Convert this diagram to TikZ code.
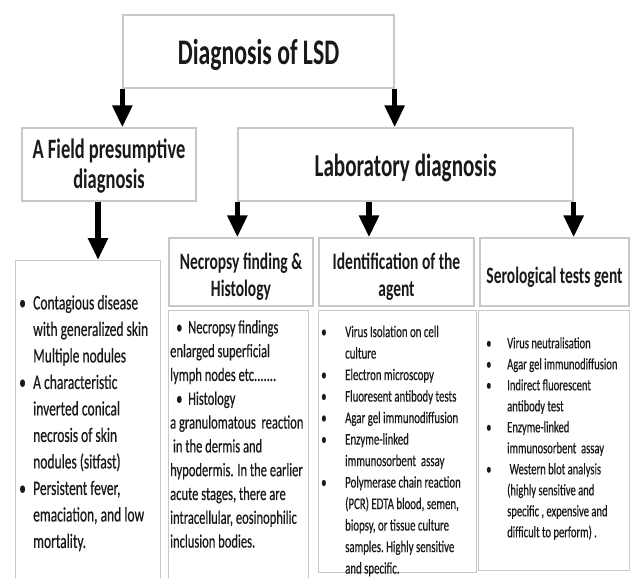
\documentclass[tikz,border=0pt]{standalone}
\usepackage{fontspec}
\setmainfont{Carlito}[FakeStretch=0.66]
\newfontfamily\bodyfont{Carlito}[FakeStretch=0.66,FakeBold=0.4]
\usetikzlibrary{arrows.meta,positioning}
\definecolor{frame}{RGB}{200,200,200}
\definecolor{ink}{RGB}{25,25,25}
\newcommand\fsz[2]{\fontsize{#1}{#2}\selectfont}
\newcommand\bul[1]{\makebox[#1][l]{\textbullet}}
\newcommand\lift[1]{\rule{0pt}{#1}}
\tikzset{
  panel/.style={draw=frame,line width=1.3pt,fill=white,inner sep=0pt,align=center,text=ink},
  head/.style={panel,font=\bfseries\fsz{#1}{27}},
  fat/.style={-{Triangle[width=19pt,length=22pt]},line width=5.5pt,draw=black},
  listtext/.style={inner sep=0pt,anchor=north west,align=left,text=ink},
}
\begin{document}
\begin{tikzpicture}[x=1pt,y=-1pt]
  \fill[white] (0,0) rectangle (632,578);
  \useasboundingbox (0,0) rectangle (632,578);
  % top levels
  \node[panel,minimum width=271pt,minimum height=73pt,font=\bfseries\fsz{36}{40}] (diag) at (258.5,51.5) {\lift{33pt}Diagnosis of LSD};
  \node[panel,minimum width=174pt,minimum height=73pt,font=\bfseries\fsz{28}{30}] (field) at (109,164.5) {\lift{23pt}A Field presumptive\\diagnosis};
  \node[panel,minimum width=335pt,minimum height=73pt,font=\bfseries\fsz{32}{36}] (lab) at (405.5,164.5) {\lift{29pt}Laboratory diagnosis};
  % column heads
  \node[head=23.5,minimum width=144pt,minimum height=68pt] (necro) at (241,272) {\lift{26pt}Necropsy finding \&\\Histology};
  \node[head=23.5,minimum width=155pt,minimum height=68pt] (ident) at (396.5,272) {\lift{26pt}Identification of the\\agent};
  \node[head=23.5,minimum width=149pt,minimum height=68pt] (sero) at (554.5,272) {\lift{26pt}Serological tests gent};
  % bodies
  \node[panel,anchor=north west,minimum width=145pt,minimum height=325pt] (fieldbody) at (15,260) {};
  \node[panel,anchor=north west,minimum width=140pt,minimum height=275pt] (necrobody) at (168,310) {};
  \node[panel,anchor=north west,minimum width=158pt,minimum height=262pt] (identbody) at (318,310) {};
  \node[panel,anchor=north west,minimum width=151pt,minimum height=260pt] (serobody) at (478,310) {};
  \node[listtext,font=\bodyfont\fsz{20.5}{26.5}] (fieldlist) at (19,295) {%
    \bul{14pt}Contagious disease\\
    \hspace*{14pt}with generalized skin\\
    \hspace*{14pt}Multiple nodules\\
    \bul{14pt}A characteristic\\
    \hspace*{14pt}inverted conical\\
    \hspace*{14pt}necrosis of skin\\
    \hspace*{14pt}nodules (sitfast)\\
    \bul{14pt}Persistent fever,\\
    \hspace*{14pt}emaciation, and low\\
    \hspace*{14pt}mortality.};
  \node[listtext,font=\bodyfont\fsz{19}{23.8}] (necrolist) at (170,320) {%
    \hspace*{6pt}\bul{12pt}Necropsy findings\\
    enlarged superficial\\
    lymph nodes etc.......\\
    \hspace*{6pt}\bul{12pt}Histology\\
    a granulomatous\ \ reaction\\
    \ in the dermis and\\
    hypodermis. In the earlier\\
    acute stages, there are\\
    intracellular, eosinophilic\\
    inclusion bodies.};
  \node[listtext,font=\bodyfont\fsz{16.4}{21.5}] (identlist) at (321,325.5) {%
    \bul{24pt}Virus Isolation on cell\\
    \hspace*{24pt}culture\\
    \bul{24pt}Electron microscopy\\
    \bul{24pt}Fluoresent antibody\ tests\\
    \bul{24pt}Agar gel immunodiffusion\\
    \bul{24pt}Enzyme-linked\\
    \hspace*{24pt}immunosorbent\ \ assay\\
    \bul{24pt}Polymerase chain reaction\\
    \hspace*{24pt}(PCR) EDTA blood, semen,\\
    \hspace*{24pt}biopsy, or tissue culture\\
    \hspace*{24pt}samples.\ Highly sensitive\\
    \hspace*{24pt}and specific.};
  \node[listtext,font=\bodyfont\fsz{16}{21}] (serolist) at (486,337) {%
    \bul{21pt}Virus neutralisation\\
    \bul{21pt}Agar gel immunodiffusion\\
    \bul{21pt}Indirect fluorescent\\
    \hspace*{21pt}antibody\ test\\
    \bul{21pt}Enzyme-linked\\
    \hspace*{21pt}immunosorbent\ \ assay\\
    \bul{21pt}\ Western blot analysis\\
    \hspace*{21pt}(highly sensitive and\\
    \hspace*{21pt}specific , expensive and\\
    \hspace*{21pt}difficult to perform) .};
  % arrows
  \coordinate (fa) at ([xshift=-11pt]field.south);
  \coordinate (la) at ([xshift=-36.5pt]lab.south);
  \draw[fat] (diag.south west) -- (diag.south west |- field.north);
  \draw[fat] (diag.south east) -- (diag.south east |- lab.north);
  \draw[fat] (fa) -- (fa |- fieldbody.north);
  \draw[fat] (lab.south west) -- (lab.south west |- necro.north);
  \draw[fat] (la) -- (la |- ident.north);
  \draw[fat] (lab.south east) -- (lab.south east |- sero.north);
\end{tikzpicture}
\end{document}
